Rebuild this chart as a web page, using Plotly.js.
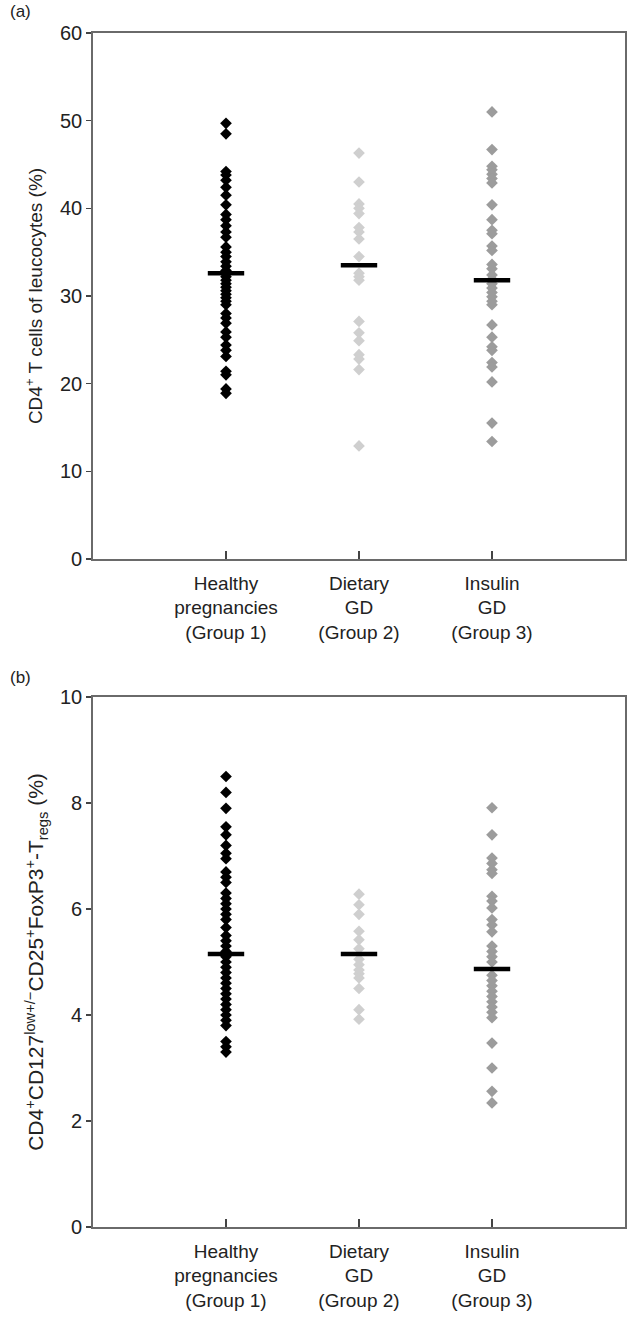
<!DOCTYPE html>
<html>
<head>
<meta charset="utf-8">
<script src="https://cdn.plot.ly/plotly-3.0.1.min.js"></script>
<style>
html,body{margin:0;padding:0;background:#fff;}
#chart{width:634px;height:1340px;}
</style>
</head>
<body>
<div id="chart"></div>
<script>
// Category positions and labels
const groupPos = [1, 2, 3];
const groupLabels = ["Healthy<br>pregnancies<br>(Group 1)", "Dietary<br>GD<br>(Group 2)", "Insulin<br>GD<br>(Group 3)"];
const groupColors = ["#000000", "#cfcfcf", "#9c9c9c"];

// Panel (a): CD4+ T cells of leucocytes (%)
const a_group1 = [49.7, 48.5, 44.2, 43.8, 43.2, 42.4, 41.5, 40.4, 39.3, 38.7, 38.0, 37.3, 36.7, 35.6, 35.0, 34.5, 33.9, 33.4, 32.9, 32.5, 32.2, 31.8, 31.4, 31.0, 30.6, 30.2, 29.8, 29.4, 29.0, 28.0, 27.5, 26.9, 25.9, 25.3, 24.4, 23.8, 23.1, 21.4, 21.0, 19.4, 18.9];
const a_group2 = [46.3, 43.0, 40.5, 40.0, 39.4, 37.8, 37.3, 36.5, 34.5, 32.6, 32.2, 31.8, 27.1, 25.8, 24.9, 23.3, 22.8, 21.6, 12.9];
const a_group3 = [51.0, 46.7, 44.8, 44.4, 43.9, 43.4, 42.9, 40.4, 38.7, 37.5, 37.1, 35.7, 35.2, 33.6, 33.1, 32.4, 31.9, 31.4, 30.9, 30.4, 29.9, 29.4, 29.0, 26.7, 25.3, 24.2, 23.8, 22.4, 21.9, 20.2, 15.5, 13.4];
const a_medians = [32.6, 33.5, 31.8];

// Panel (b): CD4+CD127low+/-CD25+FoxP3+ Tregs (%)
const b_group1 = [8.5, 8.2, 7.9, 7.55, 7.4, 7.2, 7.05, 6.95, 6.7, 6.6, 6.5, 6.3, 6.2, 6.1, 6.0, 5.9, 5.8, 5.65, 5.5, 5.4, 5.3, 5.2, 5.1, 5.0, 4.9, 4.8, 4.7, 4.6, 4.5, 4.4, 4.3, 4.2, 4.1, 4.0, 3.9, 3.8, 3.5, 3.4, 3.3];
const b_group2 = [6.28, 6.08, 5.9, 5.58, 5.42, 5.25, 5.05, 4.95, 4.85, 4.78, 4.7, 4.5, 4.1, 3.92];
const b_group3 = [7.91, 7.4, 6.96, 6.86, 6.74, 6.67, 6.24, 6.15, 6.02, 5.8, 5.7, 5.57, 5.3, 5.2, 5.1, 5.0, 4.75, 4.65, 4.55, 4.45, 4.35, 4.25, 4.15, 4.05, 3.95, 3.47, 3.0, 2.56, 2.34];
const b_medians = [5.15, 5.15, 4.87];

const a_ticks = [0, 10, 20, 30, 40, 50, 60];
const b_ticks = [0, 2, 4, 6, 8, 10];

function dots(vals, i, xa, ya) {
  return {
    type: 'scatter', mode: 'markers', xaxis: xa, yaxis: ya,
    x: vals.map(() => groupPos[i]), y: vals,
    marker: {symbol: 'diamond', size: 9, color: groupColors[i], line: {width: 0}},
    hoverinfo: 'y', showlegend: false
  };
}
function medians(vals, xa, ya) {
  return {
    type: 'scatter', mode: 'markers', xaxis: xa, yaxis: ya,
    x: groupPos, y: vals,
    marker: {symbol: 'line-ew', size: 26, color: '#000', line: {width: 4.5, color: '#000'}},
    showlegend: false
  };
}

const traces = [
  dots(a_group1, 0, 'x', 'y'), dots(a_group2, 1, 'x', 'y'), dots(a_group3, 2, 'x', 'y'),
  medians(a_medians, 'x', 'y'),
  dots(b_group1, 0, 'x2', 'y2'), dots(b_group2, 1, 'x2', 'y2'), dots(b_group3, 2, 'x2', 'y2'),
  medians(b_medians, 'x2', 'y2')
];

const fam = 'Liberation Sans, Arial, sans-serif';
const txt = '#222';
const axLine = {showline: true, linecolor: '#6a6a6a', linewidth: 1.8, mirror: true, zeroline: false, showgrid: false};

const xCommon = Object.assign({}, axLine, {
  range: [0, 4], tickmode: 'array', tickvals: groupPos, ticktext: groupLabels,
  ticks: 'inside', ticklen: 8, tickcolor: '#444', tickwidth: 1.5,
  ticklabelstandoff: 6,
  tickfont: {size: 19, family: fam, color: txt}, fixedrange: true
});

const layout = {
  width: 634, height: 1340,
  margin: {l: 93, r: 9, t: 33, b: 113},
  paper_bgcolor: '#fff', plot_bgcolor: '#fff',
  font: {family: fam, color: txt},
  showlegend: false,
  xaxis: Object.assign({}, xCommon, {anchor: 'y'}),
  xaxis2: Object.assign({}, xCommon, {anchor: 'y2'}),
  yaxis: Object.assign({}, axLine, {
    domain: [0.5595, 1], range: [0, 60], tickmode: 'array', tickvals: a_ticks,
    ticks: 'outside', ticklen: 5, tickcolor: '#444', tickwidth: 1.5,
    tickfont: {size: 20, family: fam, color: txt},
    title: {text: 'CD4<sup>+</sup> T cells of leucocytes (%)', font: {size: 19, family: fam, color: txt}, standoff: 12}
  }),
  yaxis2: Object.assign({}, axLine, {
    domain: [0, 0.4439], range: [0, 10], tickmode: 'array', tickvals: b_ticks,
    ticks: 'outside', ticklen: 5, tickcolor: '#444', tickwidth: 1.5,
    tickfont: {size: 20, family: fam, color: txt},
    title: {text: 'CD4<sup>+</sup>CD127<sup>low+/−</sup>CD25<sup>+</sup>FoxP3<sup>+</sup>-T<sub>regs</sub> (%)', font: {size: 21, family: fam, color: txt}, standoff: 10}
  }),
  annotations: [
    {text: '(a)', xref: 'paper', yref: 'paper', x: -0.16, y: 1.0, xanchor: 'left', yanchor: 'bottom', yshift: 10, showarrow: false, font: {size: 17, family: fam, color: txt}},
    {text: '(b)', xref: 'paper', yref: 'paper', x: -0.16, y: 0.4439, xanchor: 'left', yanchor: 'bottom', yshift: 8, showarrow: false, font: {size: 17, family: fam, color: txt}}
  ]
};

Plotly.newPlot('chart', traces, layout, {displayModeBar: false, staticPlot: true});
</script>
</body>
</html>
